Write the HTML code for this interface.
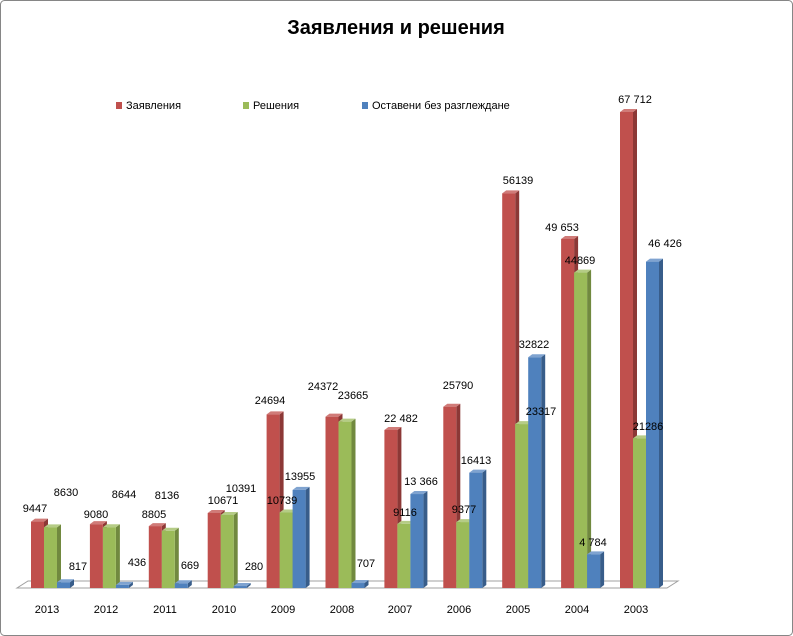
<!DOCTYPE html>
<html><head><meta charset="utf-8"><style>
html,body{margin:0;padding:0;background:#fff;}
svg{display:block;font-family:"Liberation Sans","DejaVu Sans",sans-serif;}
</style></head><body>
<svg id="c" width="793" height="636" viewBox="0 0 793 636" xmlns="http://www.w3.org/2000/svg">
<rect x="0.5" y="0.5" width="792" height="635" rx="4" fill="#fff" stroke="#868686"/>
<text x="396" y="34" text-anchor="middle" font-size="20" font-weight="bold" fill="#000">Заявления и решения</text>
<rect x="116" y="102" width="6" height="7" fill="#c0504d"/>
<text x="126" y="109" font-size="11">Заявления</text>
<rect x="243" y="102" width="6" height="7" fill="#9bbb59"/>
<text x="253" y="109" font-size="11">Решения</text>
<rect x="362" y="102" width="6" height="7" fill="#4f81bd"/>
<text x="372" y="109" font-size="11">Оставени без разглеждане</text>
<polygon points="17,588 667,588 678,581 28,581" fill="#fff" stroke="#a0a0a0"/>
<g id="bars"></g>
<g font-size="11" text-anchor="middle" fill="#000">
<text x="35" y="512">9447</text><text x="66" y="496">8630</text><text x="78" y="570">817</text>
<text x="96" y="518">9080</text><text x="124" y="498">8644</text><text x="137" y="566">436</text>
<text x="154" y="518">8805</text><text x="167" y="499">8136</text><text x="190" y="569">669</text>
<text x="223" y="504">10671</text><text x="241" y="492">10391</text><text x="254" y="570">280</text>
<text x="270" y="404">24694</text><text x="282" y="504">10739</text><text x="300" y="480">13955</text>
<text x="323" y="390">24372</text><text x="353" y="399">23665</text><text x="366" y="567">707</text>
<text x="401" y="422">22 482</text><text x="405" y="516">9116</text><text x="421" y="485">13 366</text>
<text x="458" y="389">25790</text><text x="464" y="513">9377</text><text x="476" y="464">16413</text>
<text x="518" y="184">56139</text><text x="541" y="415">23317</text><text x="534" y="348">32822</text>
<text x="562" y="231">49 653</text><text x="580" y="264">44869</text><text x="593" y="546">4 784</text>
<text x="635" y="103">67 712</text><text x="648" y="430">21286</text><text x="665" y="247">46 426</text>
</g>
<g font-size="11" text-anchor="middle" fill="#000">
<text x="47" y="613">2013</text><text x="106" y="613">2012</text><text x="165" y="613">2011</text>
<text x="224" y="613">2010</text><text x="283" y="613">2009</text><text x="342" y="613">2008</text>
<text x="400" y="613">2007</text><text x="459" y="613">2006</text><text x="518" y="613">2005</text>
<text x="577" y="613">2004</text><text x="636" y="613">2003</text>
</g>
</svg>
<script>
var d=[[9447,8630,817],[9080,8644,436],[8805,8136,669],[10671,10391,280],[24694,10739,13955],[24372,23665,707],[22482,9116,13366],[25790,9377,16413],[56139,23317,32822],[49653,44869,4784],[67712,21286,46426]];
var cols=[["#c0504d","#8c3836","#d07b78"],["#9bbb59","#71893f","#b5cc86"],["#4f81bd","#385d8a","#7fa3d0"]];
var s=476/67712,g=document.getElementById("bars"),h="";
for(var i=0;i<11;i++){for(var k=0;k<3;k++){
var x=31+58.9*i+13*k,w=13,v=d[i][k],t=588-v*s,dx=4,dy=3;
h+='<polygon points="'+(x+w)+','+t+' '+(x+w+dx)+','+(t-dy)+' '+(x+w+dx)+','+(588-dy)+' '+(x+w)+',588" fill="'+cols[k][1]+'"/>';
h+='<polygon points="'+x+','+t+' '+(x+dx)+','+(t-dy)+' '+(x+w+dx)+','+(t-dy)+' '+(x+w)+','+t+'" fill="'+cols[k][2]+'"/>';
h+='<rect x="'+x+'" y="'+t+'" width="'+w+'" height="'+(588-t)+'" fill="'+cols[k][0]+'"/>';
}}
g.innerHTML=h;
</script>
</body></html>
